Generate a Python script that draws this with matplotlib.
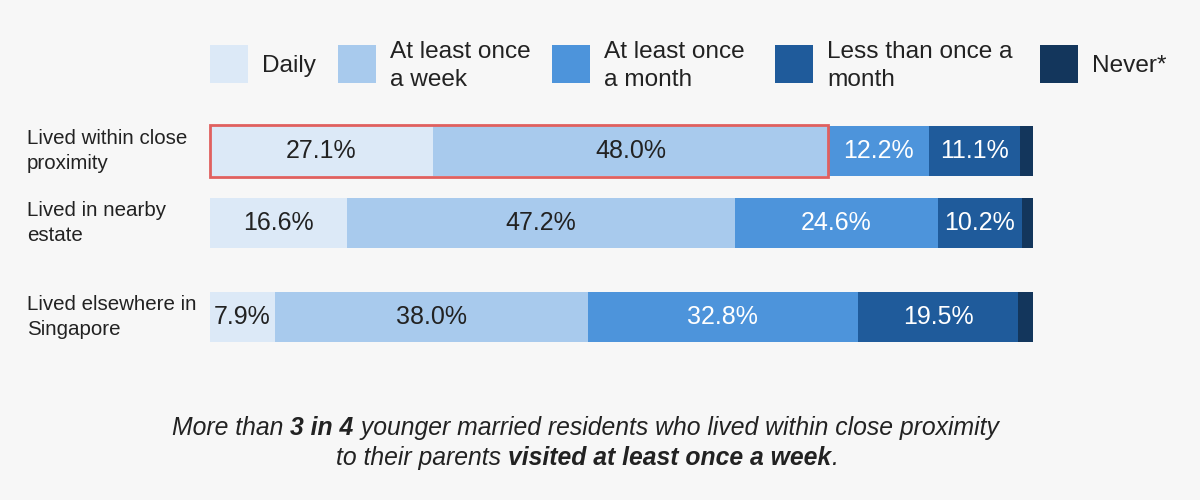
import matplotlib
matplotlib.use("Agg")
import matplotlib.pyplot as plt
from matplotlib.patches import Rectangle
from matplotlib.transforms import blended_transform_factory

# data
groups = ["Lived within close\nproximity", "Lived in nearby\nestate", "Lived elsewhere in\nSingapore"]
categories = ["Daily", "At least once\na week", "At least once\na month", "Less than once a\nmonth", "Never*"]
daily = [27.1, 16.6, 7.9]
weekly = [48.0, 47.2, 38.0]
monthly = [12.2, 24.6, 32.8]
less_monthly = [11.1, 10.2, 19.5]
never = [1.6, 1.4, 1.8]

colors = ["#dce9f7", "#a8caed", "#4d94db", "#1f5b9b", "#13365c"]
text_colors = ["#222222", "#222222", "white", "white", None]
bg = "#f7f7f7"

plt.rcParams["font.family"] = ["Liberation Sans", "DejaVu Sans"]

fig = plt.figure(figsize=(12, 5), dpi=100, facecolor=bg)
ax = fig.add_axes([0.175, 0.30, 0.686, 0.46])
ax.set_facecolor(bg)

ypos = [0, 1, 2.3]
series = [daily, weekly, monthly, less_monthly, never]
left = [0.0, 0.0, 0.0]
for s, vals in enumerate(series):
    bars = ax.barh(ypos, vals, left=left, height=0.69, color=colors[s], linewidth=0)
    if text_colors[s] is not None:
        for b, v in zip(bars, vals):
            ax.text(b.get_x() + b.get_width() / 2, b.get_y() + b.get_height() / 2,
                    f"{v:.1f}%", ha="center", va="center", fontsize=18,
                    color=text_colors[s])
    left = [l + v for l, v in zip(left, vals)]

# highlight box around daily + weekly for first group
ax.add_patch(Rectangle((0, ypos[0] - 0.36), daily[0] + weekly[0], 0.72,
                       fill=False, edgecolor="#e0605f", linewidth=2, clip_on=False))

ax.set_xlim(0, sum(v[0] for v in series))
ax.set_ylim(2.76, -0.43)
ax.axis("off")

# group labels, left aligned near the figure edge
lab_tr = blended_transform_factory(fig.transFigure, ax.transData)
for y, g in zip(ypos, groups):
    ax.text(27 / 1200, y, g, transform=lab_tr, ha="left", va="center",
            fontsize=14.8, color="#222222", linespacing=1.4)

# legend built by hand
leg_x = [210, 338, 552, 775, 1040]
for x, c, lab in zip(leg_x, colors, categories):
    fig.patches.append(Rectangle((x / 1200, 1 - 83 / 500), 38 / 1200, 38 / 500,
                                 transform=fig.transFigure, facecolor=c, edgecolor="none"))
    fig.text((x + 52) / 1200, 1 - 66 / 500, lab, ha="left", va="center",
             fontsize=17.6, color="#222222", linespacing=1.4)

# caption with bold parts
cap_font = ["Liberation Sans", "DejaVu Sans"]
lines = [
    (172, 428, [("More than ", "normal"), ("3 in 4", "bold"),
                (" younger married residents who lived within close proximity", "normal")]),
    (336, 458, [("to their parents ", "normal"), ("visited at least once a week", "bold"),
                (".", "normal")]),
]
for x0, y0, parts in lines:
    prev = None
    for txt, w in parts:
        if prev is None:
            prev = fig.text(x0 / 1200, 1 - y0 / 500, txt, ha="left", va="center",
                            fontsize=17.8, style="italic", weight=w, family=cap_font,
                            color="#222222")
        else:
            prev = ax.annotate(txt, xy=(1, 0.5), xycoords=prev, ha="left", va="center",
                               fontsize=17.8, style="italic", weight=w, family=cap_font,
                               color="#222222", annotation_clip=False)

fig.savefig("out.png", dpi=100, facecolor=bg)
